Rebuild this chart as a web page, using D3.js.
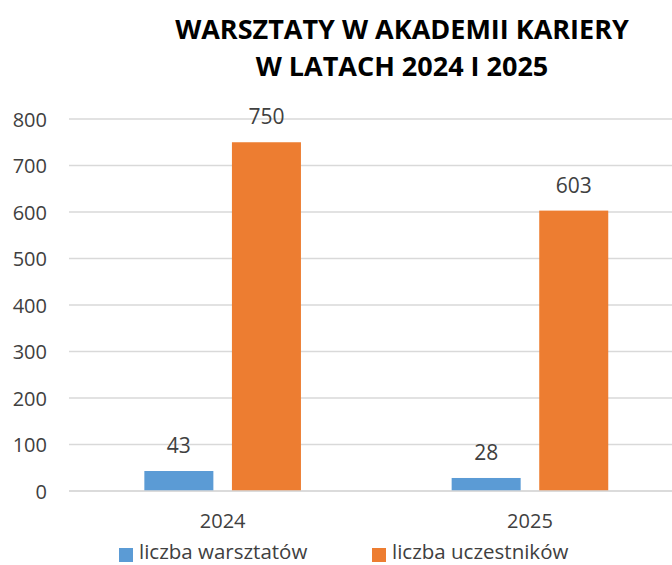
<!DOCTYPE html>
<html>
<head>
<meta charset="utf-8">
<script src="https://cdn.jsdelivr.net/npm/d3@7"></script>
<style>
  body { margin: 0; background: #fff; }
  svg { display: block; font-family: 'Open Sans', sans-serif; }
</style>
</head>
<body>
<svg id="chart" width="672" height="565"></svg>
<script>
const years = ['2024', '2025']
const seriesNames = ['liczba warsztatów', 'liczba uczestników']
const warsztaty = [43, 28]
const uczestnicy = [750, 603]
const yTicks = [0, 100, 200, 300, 400, 500, 600, 700, 800]
const colors = ['#5b9bd5', '#ed7d31']

const svg = d3.select('#chart')
const margin = {top: 119, left: 69, bottom: 74}
const plotW = 614.6
const plotH = 565 - margin.top - margin.bottom
const groupW = 156.6

const x = d3.scaleBand().domain(years).range([margin.left, margin.left + plotW])
const inner = d3.scaleBand().domain([0, 1]).range([0, groupW]).paddingInner(0.212)
const y = d3.scaleLinear().domain([0, 800]).range([margin.top + plotH, margin.top])

// grid
svg.append('g')
  .selectAll('line')
  .data(yTicks)
  .enter()
  .append('line')
  .attr('x1', margin.left)
  .attr('x2', 672)
  .attr('y1', d => y(d))
  .attr('y2', d => y(d))
  .attr('stroke', '#d9d9d9')
  .attr('stroke-width', 1.5)

// y axis labels
const yAxis = svg.append('g')
  .attr('transform', 'translate(' + (margin.left - 22) + ',0)')
  .call(d3.axisLeft(y).tickValues(yTicks).tickSize(0).tickPadding(0))
yAxis.select('.domain').remove()
yAxis.selectAll('text')
  .attr('font-size', 20)
  .attr('font-family', 'Open Sans, sans-serif')
  .attr('fill', '#404040')
  .attr('dy', '0.36em')

// bars
const rows = years.map((yr, i) => [warsztaty[i], uczestnicy[i]])
const groups = svg.append('g')
  .selectAll('g')
  .data(rows)
  .enter()
  .append('g')
  .attr('transform', (d, i) => 'translate(' + (x(years[i]) + (x.bandwidth() - groupW) / 2) + ',0)')

groups.selectAll('rect')
  .data(d => d)
  .enter()
  .append('rect')
  .attr('x', (d, j) => inner(j))
  .attr('width', inner.bandwidth())
  .attr('y', d => y(d))
  .attr('height', d => y(0) - y(d))
  .attr('fill', (d, j) => colors[j])

groups.selectAll('text')
  .data(d => d)
  .enter()
  .append('text')
  .attr('x', (d, j) => inner(j) + inner.bandwidth() / 2)
  .attr('y', d => y(d) - 18)
  .attr('text-anchor', 'middle')
  .attr('font-size', 21)
  .attr('fill', '#404040')
  .text(d => d)

// category labels
const xAxis = svg.append('g')
  .attr('transform', 'translate(0,' + (y(0) + 23) + ')')
  .call(d3.axisBottom(x).tickSize(0).tickPadding(0))
xAxis.select('.domain').remove()
xAxis.selectAll('text')
  .attr('font-size', 20)
  .attr('font-family', 'Open Sans, sans-serif')
  .attr('fill', '#404040')

// baseline
svg.append('line')
  .attr('x1', margin.left).attr('x2', 672)
  .attr('y1', y(0)).attr('y2', y(0))
  .attr('stroke', '#d9d9d9').attr('stroke-width', 1.5)

// legend
const legendX = [119, 372]
const legend = svg.append('g')
  .selectAll('g')
  .data(seriesNames)
  .enter()
  .append('g')
  .attr('transform', (d, i) => 'translate(' + legendX[i] + ',548)')
legend.append('rect')
  .attr('width', 14).attr('height', 14)
  .attr('fill', (d, i) => colors[i])
legend.append('text')
  .attr('x', 20).attr('y', 11)
  .attr('font-size', 20.5)
  .attr('fill', '#404040')
  .text(d => d)

// title
const titleLines = ['WARSZTATY W AKADEMII KARIERY', 'W LATACH 2024 I 2025']
svg.append('g')
  .selectAll('text')
  .data(titleLines)
  .enter()
  .append('text')
  .attr('x', 402)
  .attr('y', (d, i) => 39 + i * 37)
  .attr('text-anchor', 'middle')
  .attr('font-size', 27)
  .attr('font-weight', 'bold')
  .attr('fill', '#000')
  .text(d => d)
</script>
</body>
</html>
